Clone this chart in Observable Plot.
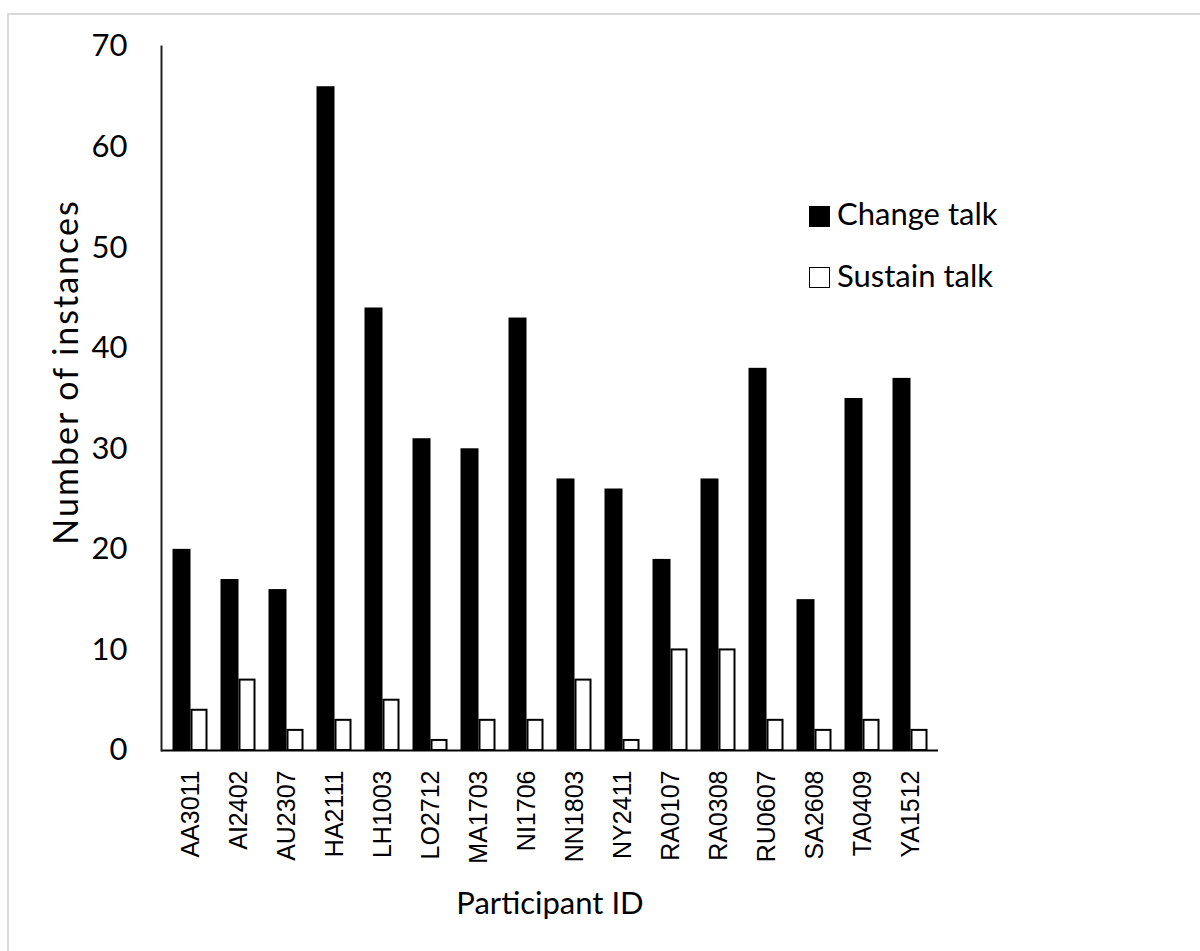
<!DOCTYPE html>
<html>
<head>
<meta charset="utf-8">
<script src="https://cdn.jsdelivr.net/npm/d3@7"></script>
<script src="https://cdn.jsdelivr.net/npm/@observablehq/plot@0.6"></script>
<style>
  html, body { margin: 0; padding: 0; background: #fff; overflow: hidden; }
  #wrap { position: relative; width: 1200px; height: 951px; }
  #frame { position: absolute; left: 7px; top: 13px; width: 1300px; height: 1100px;
           border-left: 2px solid #dadada; border-top: 2px solid #dadada; pointer-events: none; z-index: 5; }
  .txt { position: absolute; font-family: Lato, sans-serif; color: #000; line-height: 1; white-space: nowrap; }
  .sq { position: absolute; width: 21px; height: 21px; box-sizing: border-box; }
</style>
</head>
<body>
<div id="wrap">
  <div id="chart"></div>
  <div id="frame"></div>
</div>
<script>
const participants = ["AA3011","AI2402","AU2307","HA2111","LH1003","LO2712","MA1703","NI1706","NN1803","NY2411","RA0107","RA0308","RU0607","SA2608","TA0409","YA1512"];
const changeTalk  = [20,17,16,66,44,31,30,43,27,26,19,27,38,15,35,37];
const sustainTalk = [4,7,2,3,5,1,3,3,7,1,10,10,3,2,3,2];
const yTicks = [0,10,20,30,40,50,60,70];
const seriesNames = ["Change talk","Sustain talk"];
const xTitle = "Participant ID";
const yTitle = "Number of instances";

const changeData = participants.map((p, i) => ({participant: p, value: changeTalk[i]}));
const sustainData = participants.map((p, i) => ({participant: p, value: sustainTalk[i]}));

const plot = Plot.plot({
  width: 1200,
  height: 951,
  marginLeft: 161,
  marginRight: 262,
  marginTop: 46,
  marginBottom: 201,
  style: {background: "transparent", color: "#000", fontFamily: "Lato, sans-serif"},
  x: {domain: participants, padding: 0, label: null},
  y: {domain: [0, 70], label: null},
  marks: [
    Plot.barY(changeData, {x: "participant", y: "value", fill: "#000", insetLeft: 6.5, insetRight: 23.5}),
    Plot.barY(sustainData, {x: "participant", y: "value", fill: "#fff", stroke: "#000", strokeWidth: 2, insetLeft: 25.5, insetRight: 7.5}),
    Plot.ruleY([0], {stroke: "#000", strokeWidth: 2}),
    Plot.frame({anchor: "left", stroke: "#222", strokeWidth: 2}),
    Plot.axisY({ticks: yTicks, tickSize: 0, tickPadding: 34, fontSize: 31, fontFamily: "Lato, sans-serif", label: null}),
    Plot.axisX({tickRotate: -90, tickSize: 0, tickPadding: 20, fontSize: 25, fontFamily: "'Liberation Sans', Arial, sans-serif", label: null})
  ]
});
document.getElementById("chart").appendChild(plot);

const wrap = document.getElementById("wrap");
function addText(str, left, top, size, extra) {
  const d = document.createElement("div");
  d.className = "txt";
  d.textContent = str;
  d.style.left = left + "px";
  d.style.top = top + "px";
  d.style.fontSize = size + "px";
  if (extra) Object.assign(d.style, extra);
  wrap.appendChild(d);
  return d;
}
// x title
addText(xTitle, 550, 887, 31, {transform: "translateX(-50%)"});
// y title
addText(yTitle, 65, 372, 34, {letterSpacing: "2px", transform: "translate(-50%,-50%) rotate(-90deg)"});
// legend
const sq1 = document.createElement("div"); sq1.className = "sq";
Object.assign(sq1.style, {left: "809px", top: "206px", background: "#000"});
wrap.appendChild(sq1);
const sq2 = document.createElement("div"); sq2.className = "sq";
Object.assign(sq2.style, {left: "809px", top: "267px", background: "#fff", border: "1.5px solid #000"});
wrap.appendChild(sq2);
addText(seriesNames[0], 837, 198, 31);
addText(seriesNames[1], 837, 260, 31);
</script>
</body>
</html>
